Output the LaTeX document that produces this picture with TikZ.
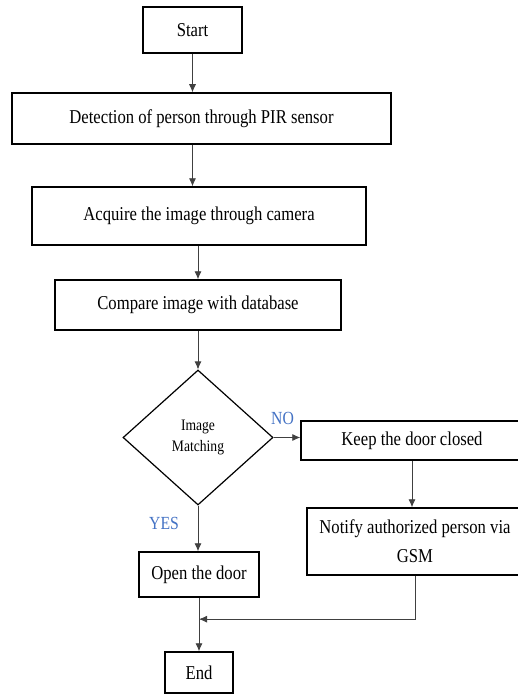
\documentclass[tikz,border=0pt]{standalone}
\usepackage{fontspec}
\setmainfont[FakeStretch=0.85]{Liberation Serif}
\usepackage{xcolor}
\usetikzlibrary{shapes.geometric}
\usetikzlibrary{arrows.meta}
\definecolor{labelblue}{RGB}{68,114,196}

\begin{document}
\begin{tikzpicture}[x=1pt, y=-1pt,
        blk/.style = {draw, rectangle, line width=1.5pt, inner sep=0pt,
            font=\fontsize{19.6}{29}\selectfont},
        dec/.style = {draw, diamond, line width=1.2pt, inner sep=0pt, aspect=1.11,
            minimum width=150pt, minimum height=135pt, align=center,
            font=\fontsize{16}{21}\selectfont},
        flow/.style = {-{Latex[length=8pt, width=7pt]}, draw=black!75, line width=0.8pt},
        yn/.style = {text=labelblue, font=\fontsize{18.5}{20}\selectfont}]
        \useasboundingbox (0, 0) rectangle (518, 695);

        \node[blk, minimum width=99pt, minimum height=46pt] (start) at (192.5, 30) {Start};
        \node[blk, minimum width=379pt, minimum height=51pt] (detect) at (201.5, 118.5)
            {Detection of person through PIR sensor};
        \node[blk, minimum width=334pt, minimum height=58pt] (acquire) at (199, 216)
            {Acquire the image through camera};
        \node[blk, minimum width=286pt, minimum height=50pt] (compare) at (198, 305)
            {Compare image with database};
        \node[dec] (match) at (198, 437.5) {Image\\Matching};
        \node[blk, minimum width=222pt, minimum height=39pt] (keep) at (412, 440.5)
            {Keep the door closed};
        \node[blk, minimum width=216pt, minimum height=67pt, align=center] (notify) at (415, 541.5)
            {Notify authorized person via\\GSM};
        \node[blk, minimum width=120pt, minimum height=45pt] (open) at (199, 574.5) {Open the door};
        \node[blk, minimum width=68pt, minimum height=41pt] (end) at (199, 672.5) {End};

        \node[yn] (no) at (282.5, 418) {NO};
        \node[yn] (yes) at (164, 523) {YES};

        \draw[flow] (start.south) -- (start.south |- detect.north);
        \draw[flow] (detect.south -| start) -- (acquire.north -| start);
        \draw[flow] (acquire.south -| compare) -- (compare.north);
        \draw[flow] (compare.south) -- (match.north);
        \draw[flow] (match.east) -- (match.east -| keep.west);
        \draw[flow] (keep.south) -- (keep.south |- notify.north);
        \draw[flow] (match.south) -- (match.south |- open.north);
        \draw[flow] (open.south) -- (end.north);
        \path (open.south) -- (end.north) coordinate[pos=0.4] (merge);
        \draw[flow] (notify.south) |- (merge);
    \end{tikzpicture}
\end{document}
